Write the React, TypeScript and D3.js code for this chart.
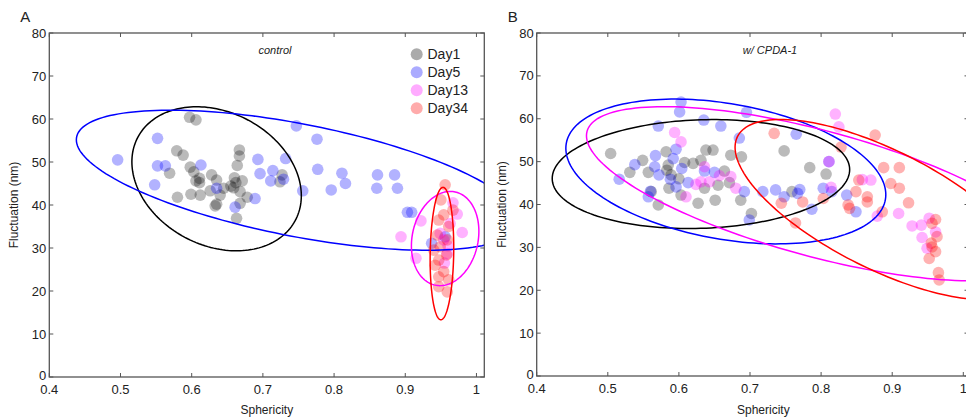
import React from "react";
import * as d3 from "d3";

type P = [number, number];

// ---------- data ----------
const xTicks = [0.4, 0.5, 0.6, 0.7, 0.8, 0.9, 1.0];
const yTicks = [0, 10, 20, 30, 40, 50, 60, 70, 80];
const dayNames = ["Day1", "Day5", "Day13", "Day34"];
const dayColors = ["#000000", "#0000ff", "#ff00ff", "#ff0000"];

const A_day1: P[] = [
  [0.597, 60.4], [0.606, 59.8], [0.579, 52.6], [0.588, 51.6], [0.667, 52.8], [0.667, 51.4],
  [0.664, 49.2], [0.569, 47.4], [0.598, 48.8], [0.603, 47.7], [0.611, 46.2], [0.611, 45.2],
  [0.628, 47.0], [0.635, 45.8], [0.660, 46.3], [0.671, 45.6], [0.659, 44.0], [0.645, 43.9],
  [0.626, 43.3], [0.612, 42.3], [0.599, 42.5], [0.580, 41.8], [0.640, 42.3], [0.668, 43.1],
  [0.678, 41.8], [0.668, 40.4], [0.633, 39.8], [0.635, 40.2], [0.663, 36.9], [0.727, 47.0],
  [0.724, 45.4], [0.662, 45.2], [0.655, 44.4], [0.606, 45.6],
];
const A_day5: P[] = [
  [0.496, 50.5], [0.552, 55.5], [0.552, 49.1], [0.563, 49.1], [0.548, 44.7], [0.613, 49.3],
  [0.635, 43.9], [0.661, 39.5], [0.689, 41.5], [0.693, 50.6], [0.696, 47.3], [0.714, 48.0],
  [0.711, 45.6], [0.729, 46.0], [0.732, 50.8], [0.747, 58.4], [0.756, 43.3], [0.776, 55.3],
  [0.777, 48.3], [0.811, 47.4], [0.816, 45.0], [0.796, 43.5], [0.861, 47.0], [0.885, 47.0],
  [0.860, 43.9], [0.889, 43.9], [0.903, 38.3], [0.909, 38.3], [0.937, 31.1], [0.956, 32.6],
];
const A_day13: P[] = [
  [0.894, 32.6], [0.922, 36.3], [0.915, 27.6], [0.967, 40.5], [0.973, 37.9], [0.980, 33.6],
  [0.963, 35.7], [0.959, 28.7], [0.954, 31.9], [0.949, 33.4], [0.960, 30.5], [0.955, 26.5],
];
const A_day34: P[] = [
  [0.956, 44.7], [0.950, 41.2], [0.967, 38.8], [0.947, 36.5], [0.945, 33.0], [0.959, 31.9],
  [0.949, 30.3], [0.958, 28.4], [0.947, 27.2], [0.942, 26.0], [0.954, 24.5], [0.947, 23.3],
  [0.961, 22.6], [0.947, 21.0], [0.959, 19.8], [0.940, 29.5], [0.961, 35.0], [0.954, 37.7],
];

const B_day1: P[] = [
  [0.504, 51.9], [0.531, 47.5], [0.549, 50.3], [0.557, 47.5], [0.561, 43.0], [0.571, 39.9],
  [0.582, 52.3], [0.585, 49.2], [0.589, 46.9], [0.586, 43.8], [0.603, 42.2], [0.608, 49.8],
  [0.620, 49.6], [0.627, 40.3], [0.636, 43.8], [0.638, 52.7], [0.648, 52.7], [0.631, 50.3],
  [0.655, 44.5], [0.651, 41.0], [0.664, 47.8], [0.673, 51.5], [0.688, 51.1], [0.671, 45.1],
  [0.687, 41.0], [0.702, 37.9], [0.748, 52.5], [0.784, 48.6], [0.807, 47.1], [0.759, 43.0],
  [0.583, 48.0], [0.600, 46.0],
];
const B_day5: P[] = [
  [0.516, 45.9], [0.538, 49.3], [0.567, 51.4], [0.566, 48.8], [0.572, 46.9], [0.571, 58.3],
  [0.596, 52.9], [0.592, 50.7], [0.604, 48.4], [0.588, 45.9], [0.596, 44.1], [0.613, 45.1],
  [0.603, 63.9], [0.601, 61.6], [0.635, 59.7], [0.659, 58.3], [0.560, 43.1], [0.557, 41.8],
  [0.636, 47.8], [0.650, 47.5], [0.695, 61.5], [0.685, 55.5], [0.692, 43.0], [0.699, 36.4],
  [0.765, 56.4], [0.718, 43.0], [0.736, 43.4], [0.748, 41.8], [0.767, 42.6], [0.787, 38.9],
  [0.803, 43.8], [0.811, 50.0], [0.815, 43.0], [0.836, 42.2], [0.849, 38.3], [0.770, 43.5],
];
const B_day13: P[] = [
  [0.594, 56.8], [0.603, 54.6], [0.636, 48.8], [0.631, 45.3], [0.643, 45.3], [0.657, 46.7],
  [0.673, 46.5], [0.680, 43.8], [0.610, 41.8], [0.624, 44.7], [0.820, 61.1], [0.825, 58.1],
  [0.814, 44.0], [0.858, 45.8], [0.870, 45.7], [0.879, 37.3], [0.909, 37.9], [0.928, 35.0],
  [0.941, 35.2], [0.942, 32.3], [0.952, 36.8], [0.961, 33.6], [0.949, 29.8], [0.811, 50.0],
];
const B_day34: P[] = [
  [0.734, 56.6], [0.876, 56.2], [0.828, 53.4], [0.888, 48.6], [0.910, 48.6], [0.853, 45.7],
  [0.898, 44.9], [0.910, 43.8], [0.849, 43.0], [0.865, 41.8], [0.865, 40.6], [0.923, 40.4],
  [0.838, 39.9], [0.840, 39.1], [0.886, 38.3], [0.803, 41.4], [0.744, 40.3], [0.774, 40.6],
  [0.764, 35.7], [0.961, 36.5], [0.956, 35.6], [0.963, 32.5], [0.956, 30.1], [0.961, 29.0],
  [0.952, 27.4], [0.965, 24.1], [0.966, 22.4], [0.955, 31.0],
];

// ellipse parameters (data units): center, conjugate half-axis vectors u and v
const A_ellipses = [
  { cx: 0.635, cy: 46.1, ux: -0.119, uy: 3.94, vx: 0.0, vy: 16.28 },
  { cx: 0.7494, cy: 45.77, ux: -0.3114, uy: 9.4, vx: 0.0, vy: 13.3 },
  { cx: 0.956, cy: 32.2, ux: -0.047, uy: -0.3, vx: 0.006, vy: 10.95 },
  { cx: 0.9515, cy: 28.7, ux: -0.0165, uy: 0.0, vx: 0.0015, vy: 15.4 },
];
const B_ellipses = [
  { cx: 0.631, cy: 47.1, ux: -0.208, uy: 0.3, vx: 0.022, vy: 12.7 },
  { cx: 0.666, cy: 47.7, ux: -0.225, uy: 5.4, vx: 0.0, vy: 16.0 },
  { cx: 0.7963, cy: 42.5, ux: -0.3263, uy: 13.54, vx: 0.0, vy: 15.15 },
  { cx: 0.8867, cy: 38.8, ux: -0.2077, uy: 14.54, vx: 0.0, vy: 15.2 },
];

const FONT = "'Liberation Sans', Arial, sans-serif";

type Ell = { cx: number; cy: number; ux: number; uy: number; vx: number; vy: number };

function Panel(props: {
  id: string;
  label: string;
  note: string;
  noteX: number;
  left: number;
  right: number;
  top: number;
  bottom: number;
  xMax: number;
  series: P[][];
  ellipses: Ell[];
  legend: boolean;
}) {
  const { id, label, note, noteX, left, right, top, bottom, xMax, series, ellipses, legend } = props;
  const x = d3.scaleLinear().domain([0.4, xMax]).range([left, right]);
  const y = d3.scaleLinear().domain([0, 80]).range([bottom, top]);
  const line = d3
    .line<[number, number]>()
    .x((d) => x(d[0]))
    .y((d) => y(d[1]))
    .curve(d3.curveLinearClosed);
  const ts = d3.range(0, Math.PI * 2, Math.PI / 90);
  const axisColor = "#555";
  const tk = 4;
  return (
    <g>
      <defs>
        <clipPath id={"clip" + id}>
          <rect x={left} y={top} width={right - left} height={bottom - top} />
        </clipPath>
      </defs>
      <g clipPath={`url(#clip${id})`}>
        {series.map((pts, si) =>
          pts.map((p, i) => (
            <circle
              key={si + "-" + i}
              cx={x(p[0])}
              cy={y(p[1])}
              r={5.8}
              fill={dayColors[si]}
              fillOpacity={si === 0 ? 0.27 : 0.3}
            />
          ))
        )}
        {ellipses.map((e, i) => (
          <path
            key={"e" + i}
            d={
              line(
                ts.map((t) => [
                  e.cx + e.ux * Math.cos(t) + e.vx * Math.sin(t),
                  e.cy + e.uy * Math.cos(t) + e.vy * Math.sin(t),
                ] as [number, number])
              ) || ""
            }
            fill="none"
            stroke={dayColors[i]}
            strokeWidth={1.5}
          />
        ))}
      </g>
      {/* box */}
      <rect x={left} y={top} width={right - left} height={bottom - top} fill="none" stroke={axisColor} strokeWidth={1.3} />
      {xTicks.map((t) => (
        <g key={"xt" + t}>
          <line x1={x(t)} x2={x(t)} y1={bottom} y2={bottom - tk} stroke={axisColor} />
          <line x1={x(t)} x2={x(t)} y1={top} y2={top + tk} stroke={axisColor} />
          <text x={x(t)} y={bottom + 17} textAnchor="middle" fontSize={13} fontFamily={FONT} fill="#222">
            {t === 1 ? "1" : t.toFixed(1)}
          </text>
        </g>
      ))}
      {yTicks.map((t) => (
        <g key={"yt" + t}>
          <line x1={left} x2={left + tk} y1={y(t)} y2={y(t)} stroke={axisColor} />
          <line x1={right} x2={right - tk} y1={y(t)} y2={y(t)} stroke={axisColor} />
          <text x={left - 3} y={y(t) + (t === 0 ? 2.5 : 4.5)} textAnchor="end" fontSize={13} fontFamily={FONT} fill="#222">
            {t}
          </text>
        </g>
      ))}
      <text x={(left + Math.min(right, 966)) / 2 + (id === "B" ? 12 : 0)} y={414} textAnchor="middle" fontSize={12} fontFamily={FONT} fill="#222">
        Sphericity
      </text>
      <text
        transform={`translate(${left - 31},${(top + bottom) / 2}) rotate(-90)`}
        textAnchor="middle"
        fontSize={12}
        fontFamily={FONT}
        fill="#222"
      >
        Fluctuation (nm)
      </text>
      <text x={left - 24} y={22} textAnchor="middle" fontSize={15} fontFamily={FONT} fill="#222">
        {label}
      </text>
      <text x={noteX} y={54} textAnchor="middle" fontSize={11} fontStyle="italic" fontFamily={FONT} fill="#222">
        {note}
      </text>
      {legend &&
        dayNames.map((n, i) => (
          <g key={n}>
            <circle cx={416.7} cy={54.3 + i * 18} r={6} fill={dayColors[i]} fillOpacity={0.33} />
            <text x={427.5} y={54.3 + i * 18 + 5} fontSize={14} fontFamily={FONT} fill="#222">
              {n}
            </text>
          </g>
        ))}
    </g>
  );
}

export default function App() {
  return (
    <div style={{ position: "absolute", left: 0, top: 0, width: 966, height: 418, overflow: "hidden", background: "#fff" }}>
      <svg width={966} height={418} viewBox="0 0 966 418" style={{ display: "block" }}>
        <rect x={0} y={0} width={966} height={418} fill="#fff" />
        <Panel
          id="A"
          label="A"
          note="control"
          noteX={275}
          left={49.3}
          right={484.3}
          top={33}
          bottom={377}
          xMax={1.011}
          series={[A_day1, A_day5, A_day13, A_day34]}
          ellipses={A_ellipses}
          legend={true}
        />
        <Panel
          id="B"
          label="B"
          note="w/ CPDA-1"
          noteX={770}
          left={536.7}
          right={968.5}
          top={33}
          bottom={376}
          xMax={1.0073}
          series={[B_day1, B_day5, B_day13, B_day34]}
          ellipses={B_ellipses}
          legend={false}
        />
      </svg>
    </div>
  );
}
